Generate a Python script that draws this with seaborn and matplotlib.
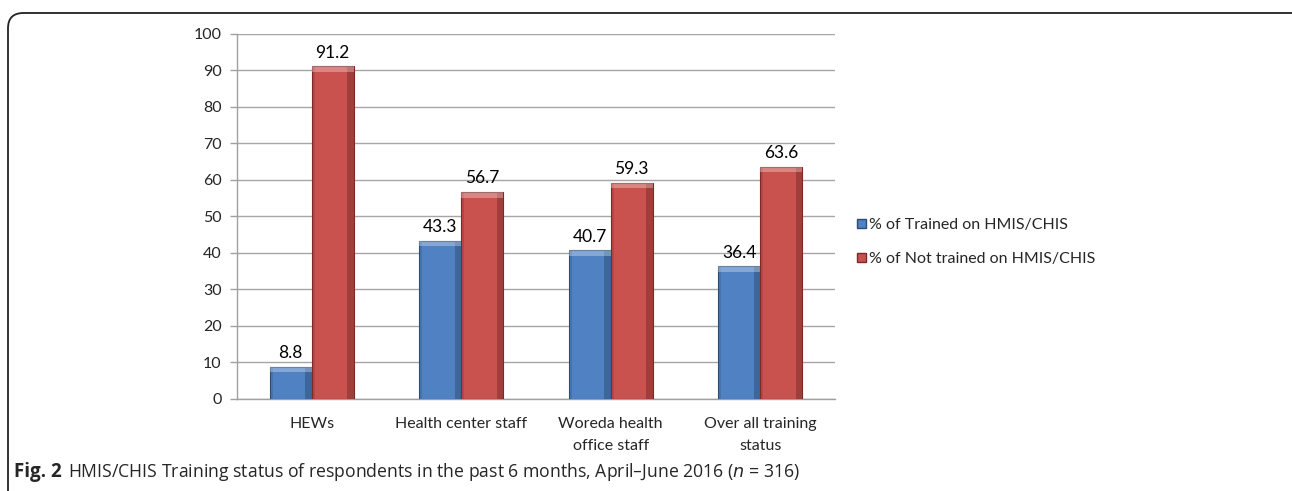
"""HMIS/CHIS training status bar chart."""
import matplotlib.pyplot as plt
import pandas as pd
import seaborn as sns
from matplotlib.patches import FancyBboxPatch, Rectangle

categories = ["HEWs", "Health center staff", "Woreda health\noffice staff", "Over all training\nstatus"]
trained = [8.8, 43.3, 40.7, 36.4]
not_trained = [91.2, 56.7, 59.3, 63.6]
series_names = ["% of Trained on HMIS/CHIS", "% of Not trained on HMIS/CHIS"]
y_ticks = list(range(0, 101, 10))

BLUE = "#5081C3"
RED = "#C9524F"

df = pd.DataFrame({
    "category": categories * 2,
    "series": [series_names[0]] * len(categories) + [series_names[1]] * len(categories),
    "value": trained + not_trained,
})

sns.set_style("white")
plt.rcParams["font.family"] = ["Lato", "DejaVu Sans"]

fig = plt.figure(figsize=(12.92, 4.91), dpi=100)
ax = fig.add_axes([0.1834, 0.1874, 0.4629, 0.7434])

sns.barplot(data=df, x="category", y="value", hue="series", palette=[BLUE, RED],
            width=0.56, gap=0, saturation=1, legend=False, ax=ax, zorder=3)

# bevel look: darker edge, shaded sides, light top band
edge_cols = {BLUE: "#2c4d74", RED: "#7a2a28"}
for p in ax.patches:
    fc = p.get_facecolor()
    col = BLUE if fc[2] > fc[0] else RED
    p.set_edgecolor(edge_cols[col])
    p.set_linewidth(0.8)
    x, y0, w, h = p.get_x(), p.get_y(), p.get_width(), p.get_height()
    ax.add_patch(Rectangle((x + w * 0.85, y0), w * 0.15, h, color=edge_cols[col],
                           alpha=0.5, zorder=4, lw=0))
    ax.add_patch(Rectangle((x, y0), w * 0.07, h, color=edge_cols[col],
                           alpha=0.25, zorder=4, lw=0))
    ax.add_patch(Rectangle((x, y0 + h - 1.5), w, 1.5, color="white",
                           alpha=0.3, zorder=4, lw=0))

for cont in ax.containers:
    ax.bar_label(cont, fmt="%.1f", padding=4, fontsize=12.5, color="#000000")

ax.set_ylim(0, 100)
ax.set_yticks(y_ticks)
ax.set_xlim(-0.5, len(categories) - 0.5)
ax.set_xlabel("")
ax.set_ylabel("")
ax.yaxis.grid(True, color="#a6a6a6", linewidth=1.0, zorder=0)
ax.set_axisbelow(True)
for s in ["top", "right"]:
    ax.spines[s].set_visible(False)
for s in ["left", "bottom"]:
    ax.spines[s].set_color("#a0a0a0")
    ax.spines[s].set_linewidth(1.0)

# category labels centred, tick marks on boundaries
ax.set_xticks(range(len(categories)))
ax.set_xticklabels(categories, fontsize=11.5, linespacing=1.75)
ax.tick_params(axis="x", length=0, pad=13)
ax.set_xticks([i - 0.5 for i in range(len(categories) + 1)], minor=True)
ax.tick_params(axis="x", which="minor", length=5, color="#a0a0a0", width=1)
ax.tick_params(axis="y", length=5, color="#a0a0a0", width=1, labelsize=11.5, pad=6, left=True)

handles = [Rectangle((0, 0), 1, 1, facecolor=BLUE, edgecolor=edge_cols[BLUE]),
           Rectangle((0, 0), 1, 1, facecolor=RED, edgecolor=edge_cols[RED])]
fig.legend(handles, series_names, loc="upper left", bbox_to_anchor=(0.652, 0.585),
           frameon=False, fontsize=11.5, handlelength=0.55, handleheight=0.55,
           handletextpad=0.2, labelspacing=1.25)

# rounded frame around the figure panel
frame = FancyBboxPatch((8 / 1292, -0.05), 1.1, 1.05 - 12 / 491 - 0.002,
                       boxstyle="round,pad=0,rounding_size=0.012",
                       transform=fig.transFigure, fill=False, edgecolor="#222222",
                       linewidth=1.3, mutation_aspect=2.6)
fig.patches.append(frame)

cap_font = ["Open Sans", "DejaVu Sans"]
fig.text(14 / 1292, 1 - 477 / 491, "Fig. 2", fontsize=13.5, fontweight="bold",
         family=cap_font, va="baseline")
fig.text(68 / 1292, 1 - 477 / 491,
         "HMIS/CHIS Training status of respondents in the past 6 months, April\u2013June 2016 ($n$ = 316)",
         fontsize=12.7, family=cap_font, va="baseline")

fig.savefig("out.png", dpi=100)
